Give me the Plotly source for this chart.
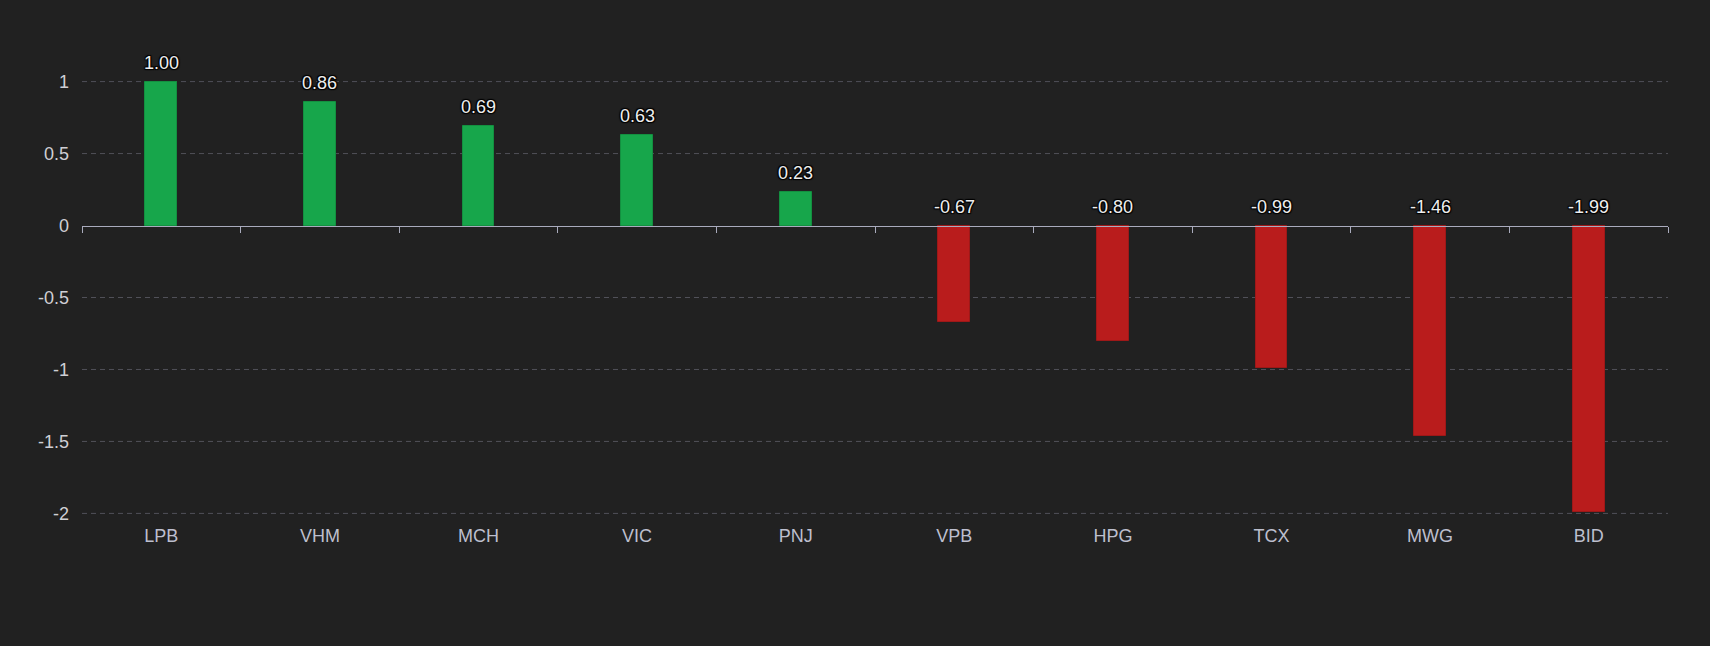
import plotly.graph_objects as go

tickers = ["LPB", "VHM", "MCH", "VIC", "PNJ", "VPB", "HPG", "TCX", "MWG", "BID"]
values = [1.00, 0.86, 0.69, 0.63, 0.23, -0.67, -0.80, -0.99, -1.46, -1.99]
y_ticks = [1, 0.5, 0, -0.5, -1, -1.5, -2]

GREEN = "#17a64b"
RED = "#b91c1c"
BG = "#212121"
FONT = "Liberation Sans, Arial, sans-serif"

colors = [GREEN if v >= 0 else RED for v in values]
line_colors = ["#139040" if v >= 0 else "#9e1818" for v in values]
idx = list(range(len(tickers)))

fig = go.Figure()
fig.add_trace(go.Bar(
    x=idx, y=values, width=0.2,
    marker=dict(color=colors, line=dict(color=line_colors, width=1)),
    hoverinfo="x+y", showlegend=False,
))
# invisible trace to host the zero-line axis with boundary ticks
fig.add_trace(go.Scatter(x=[-0.5, len(tickers) - 0.5], y=[0, 0], xaxis="x2",
                         mode="lines", line=dict(width=0), hoverinfo="skip",
                         showlegend=False))

for i, v in enumerate(values):
    fig.add_annotation(x=i, y=max(v, 0), text=f"{v:.2f}", showarrow=False,
                       yanchor="bottom", yshift=7,
                       font=dict(family=FONT, size=18, color="#eeeeee",
                                 shadow="1px 1px 1px #000, -1px -1px 1px #000, 1px -1px 1px #000, -1px 1px 1px #000"))

# dashed split lines (grid), skipping the zero axis line
for t in y_ticks:
    if t == 0:
        continue
    fig.add_shape(type="line", xref="paper", x0=0, x1=1, yref="y", y0=t, y1=t,
                  line=dict(color="#505058", width=1, dash="5px,4px"), layer="below")

EPS = 0.004
fig.update_layout(
    width=1710, height=646,
    paper_bgcolor=BG, plot_bgcolor=BG,
    margin=dict(l=82, r=42, t=81, b=132),
    font=dict(family=FONT, size=18, color="#c8c9d4"),
    bargap=0,
    xaxis=dict(
        range=[-0.5, len(tickers) - 0.5],
        tickmode="array", tickvals=idx, ticktext=tickers,
        showgrid=False, zeroline=False, showline=False, ticks="",
        tickfont=dict(size=18, color="#bdbfce"),
        ticklabelstandoff=9,
    ),
    xaxis2=dict(
        overlaying="x", anchor="free", position=(0 - (-2 - EPS)) / (3 + 2 * EPS), side="bottom",
        range=[-0.5, len(tickers) - 0.5],
        tickmode="array", tickvals=[i - 0.5 for i in range(len(tickers) + 1)],
        showticklabels=False, showgrid=False, zeroline=False,
        showline=True, linecolor="#a9abbd", linewidth=1.3,
        ticks="outside", ticklen=6, tickwidth=1.3, tickcolor="#a9abbd",
    ),
    yaxis=dict(
        range=[-2 - EPS, 1 + EPS],
        tickmode="array", tickvals=y_ticks,
        ticktext=[f"{t:g}" for t in y_ticks],
        showgrid=False, zeroline=False, showline=False, ticks="",
        tickfont=dict(size=18, color="#cfcfd4"),
        ticklabelstandoff=12,
    ),
)

fig.write_html("out.html")
